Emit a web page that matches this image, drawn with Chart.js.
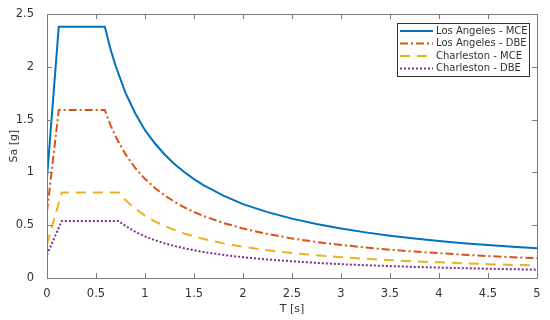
<!DOCTYPE html>
<html>
<head>
    <title>Design Response Spectra</title>
    <script src="https://cdn.jsdelivr.net/npm/chart.js"></script>
    <style>
        body { margin: 0; background: #fff; }
        #wrap { width: 550px; height: 320px; }
    </style>
</head>
<body>
    <div id="wrap"><canvas id="spectra" width="550" height="320"></canvas></div>
    <script>
        // periods [s] and spectral accelerations [g]
        const laPeriods = [0, 0.12, 0.59, 0.65, 0.7, 0.8, 0.9, 1.0, 1.1, 1.2, 1.3, 1.4, 1.5, 1.6, 1.8, 2.0, 2.25, 2.5, 2.75, 3.0, 3.25, 3.5, 3.75, 4.0, 4.25, 4.5, 4.75, 5.0];
        const laMCE = [0.95, 2.38, 2.38, 2.16, 2.01, 1.755, 1.56, 1.40, 1.276, 1.17, 1.08, 1.003, 0.936, 0.878, 0.78, 0.70, 0.624, 0.562, 0.511, 0.468, 0.432, 0.401, 0.374, 0.351, 0.330, 0.312, 0.296, 0.281];
        const laDBE = [0.63, 1.59, 1.59, 1.443, 1.34, 1.173, 1.042, 0.938, 0.853, 0.782, 0.722, 0.670, 0.625, 0.586, 0.521, 0.469, 0.417, 0.375, 0.341, 0.313, 0.289, 0.268, 0.250, 0.235, 0.221, 0.208, 0.197, 0.188];

        const chPeriods = [0, 0.15, 0.73, 0.8, 0.9, 1.0, 1.1, 1.2, 1.3, 1.4, 1.5, 1.6, 1.8, 2.0, 2.25, 2.5, 2.75, 3.0, 3.25, 3.5, 3.75, 4.0, 4.25, 4.5, 4.75, 5.0];
        const chMCE = [0.32, 0.81, 0.81, 0.739, 0.657, 0.591, 0.537, 0.493, 0.455, 0.422, 0.394, 0.369, 0.328, 0.296, 0.263, 0.236, 0.215, 0.197, 0.182, 0.169, 0.158, 0.148, 0.139, 0.131, 0.124, 0.118];
        const chDBE = [0.22, 0.54, 0.54, 0.493, 0.438, 0.394, 0.358, 0.328, 0.303, 0.281, 0.263, 0.246, 0.219, 0.197, 0.175, 0.158, 0.143, 0.131, 0.121, 0.113, 0.105, 0.0985, 0.0927, 0.0876, 0.083, 0.079];

        const seriesNames = ['Los Angeles - MCE', 'Los Angeles - DBE', 'Charleston - MCE', 'Charleston - DBE'];
        const xTicks = [0, 0.5, 1, 1.5, 2, 2.5, 3, 3.5, 4, 4.5, 5];
        const yTicks = [0, 0.5, 1, 1.5, 2, 2.5];

        const axisColor = '#7a7a7a';
        const textColor = '#333';
        const fontFamily = 'DejaVu Sans, sans-serif';

        function pairs(xs, ys) {
            return xs.map((x, i) => ({ x: x, y: ys[i] }));
        }

        function line(label, xs, ys, color, dash) {
            return {
                label: label,
                data: pairs(xs, ys),
                borderColor: color,
                backgroundColor: color,
                borderWidth: 2,
                borderDash: dash,
                pointRadius: 0,
                tension: 0,
                fill: false
            };
        }

        // box, inward ticks and a boxed legend, MATLAB style
        const matlabAxes = {
            id: 'matlabAxes',
            afterDraw(chart) {
                const c = chart.ctx;
                const a = chart.chartArea;
                const xs = chart.scales.x;
                const ys = chart.scales.y;
                c.save();
                c.strokeStyle = axisColor;
                c.lineWidth = 1;
                c.beginPath();
                c.rect(Math.round(a.left) + 0.5, Math.round(a.top) + 0.5, Math.round(a.right - a.left), Math.round(a.bottom - a.top));
                c.stroke();
                c.beginPath();
                xTicks.forEach(t => {
                    const px = Math.round(xs.getPixelForValue(t)) + 0.5;
                    c.moveTo(px, a.bottom); c.lineTo(px, a.bottom - 5);
                    c.moveTo(px, a.top); c.lineTo(px, a.top + 5);
                });
                yTicks.forEach(t => {
                    const py = Math.round(ys.getPixelForValue(t)) + 0.5;
                    c.moveTo(a.left, py); c.lineTo(a.left + 5, py);
                    c.moveTo(a.right, py); c.lineTo(a.right - 5, py);
                });
                c.stroke();

                // legend
                const lx = 397, ly = 23, lw = 132, lh = 53;
                c.fillStyle = '#fff';
                c.fillRect(lx, ly, lw, lh);
                c.strokeStyle = '#333';
                c.strokeRect(lx + 0.5, ly + 0.5, lw, lh);
                c.font = '10px ' + fontFamily;
                c.textBaseline = 'middle';
                chart.data.datasets.forEach((ds, i) => {
                    const y = ly + 8 + i * 12.5;
                    c.strokeStyle = ds.borderColor;
                    c.lineWidth = 2;
                    c.setLineDash(ds.borderDash || []);
                    c.beginPath();
                    c.moveTo(lx + 3, y); c.lineTo(lx + 36, y);
                    c.stroke();
                    c.setLineDash([]);
                    c.fillStyle = textColor;
                    c.fillText(ds.label, lx + 39, y);
                });
                c.restore();
            }
        };

        const ctx = document.getElementById('spectra').getContext('2d');
        const spectraChart = new Chart(ctx, {
            type: 'line',
            data: {
                datasets: [
                    line(seriesNames[0], laPeriods, laMCE, '#0072BD', []),
                    line(seriesNames[1], laPeriods, laDBE, '#D95319', [8, 3, 2, 3]),
                    line(seriesNames[2], chPeriods, chMCE, '#EDB120', [10, 7]),
                    line(seriesNames[3], chPeriods, chDBE, '#7E2F8E', [2, 2])
                ]
            },
            options: {
                responsive: false,
                animation: false,
                layout: { padding: { top: 14, right: 13, left: 0, bottom: 0 } },
                plugins: {
                    legend: { display: false },
                    tooltip: { enabled: false }
                },
                scales: {
                    x: {
                        type: 'linear',
                        min: 0,
                        max: 5,
                        afterBuildTicks(scale) { scale.ticks = xTicks.map(v => ({ value: v })); },
                        afterFit(scale) { scale.height = 42; },
                        grid: { display: false },
                        border: { display: false },
                        ticks: { color: textColor, font: { family: fontFamily, size: 11.5 }, padding: 1, maxRotation: 0, callback: v => String(v) },
                        title: { display: true, text: 'T [s]', color: textColor, font: { family: fontFamily, size: 11 }, padding: { top: 4 } }
                    },
                    y: {
                        type: 'linear',
                        min: 0,
                        max: 2.5,
                        afterBuildTicks(scale) { scale.ticks = yTicks.map(v => ({ value: v })); },
                        afterFit(scale) { scale.width = 47; },
                        grid: { display: false },
                        border: { display: false },
                        ticks: { color: textColor, font: { family: fontFamily, size: 11.5 }, padding: 5, callback: v => String(v) },
                        title: { display: true, text: 'Sa [g]', color: textColor, font: { family: fontFamily, size: 11 }, padding: { top: 8, bottom: 0 } }
                    }
                }
            },
            plugins: [matlabAxes]
        });
    </script>
</body>
</html>
